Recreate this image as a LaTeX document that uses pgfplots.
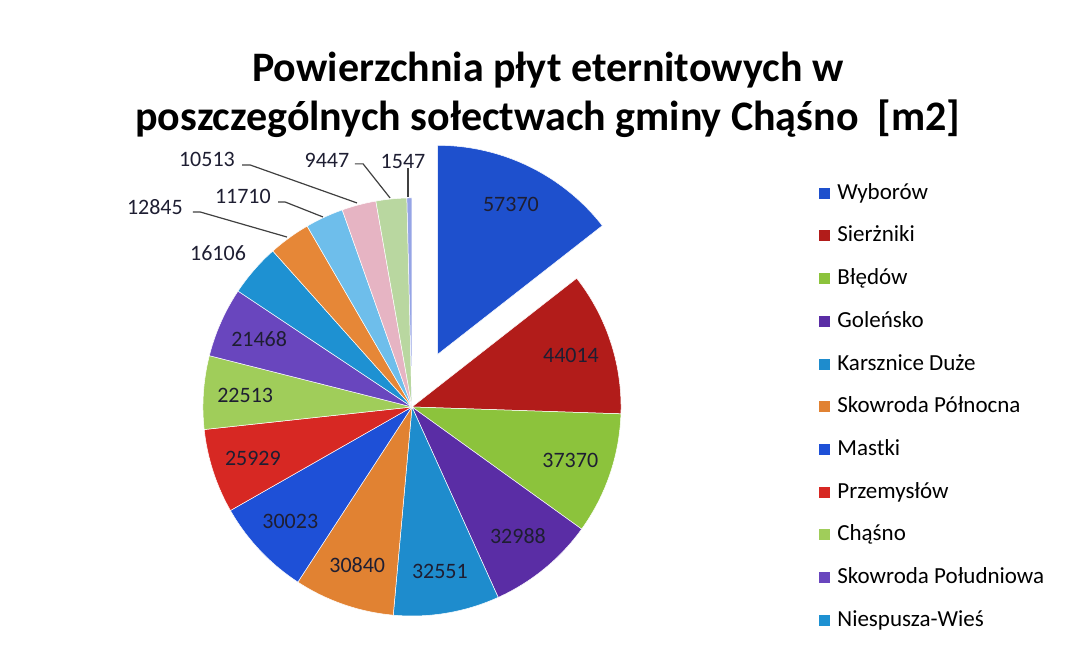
\documentclass[border=0pt]{standalone}
\usepackage{fontspec}
\setmainfont{Carlito}
\usepackage{xfp}
\usepackage{pgfplots}
\usepackage{pgfplotstable}
\pgfplotsset{compat=1.18}

\definecolor{c1}{RGB}{30,80,205}
\definecolor{c2}{RGB}{178,28,26}
\definecolor{c3}{RGB}{140,195,60}
\definecolor{c4}{RGB}{90,45,165}
\definecolor{c5}{RGB}{30,140,205}
\definecolor{c6}{RGB}{225,130,50}
\definecolor{c7}{RGB}{30,80,215}
\definecolor{c8}{RGB}{215,40,35}
\definecolor{c9}{RGB}{160,205,90}
\definecolor{c10}{RGB}{105,70,190}
\definecolor{c11}{RGB}{30,145,210}
\definecolor{c12}{RGB}{230,135,55}
\definecolor{c13}{RGB}{110,190,235}
\definecolor{c14}{RGB}{230,180,195}
\definecolor{c15}{RGB}{185,215,160}
\definecolor{c16}{RGB}{150,165,230}
\definecolor{lblcol}{RGB}{30,30,50}

\tikzset{lbl/.style={font=\fontsize{11}{13}\selectfont, text=lblcol, inner sep=0pt}}

% powierzchnia w m2, kolejnosc jak w legendzie
\pgfplotstableread[col sep=comma]{
name,value,color
Wyborów,57370,c1
Sierżniki,44014,c2
Błędów,37370,c3
Goleńsko,32988,c4
Karsznice Duże,32551,c5
Skowroda Północna,30840,c6
Mastki,30023,c7
Przemysłów,25929,c8
Chąśno,22513,c9
Skowroda Południowa,21468,c10
Niespusza-Wieś,16106,c11
s12,12845,c12
s13,11710,c13
s14,10513,c14
s15,9447,c15
s16,1547,c16
}\piedata

\def\total{0}
\pgfplotsforeachungrouped \i in {0,...,15}{%
  \pgfplotstablegetelem{\i}{value}\of\piedata
  \xdef\total{\fpeval{\total+\pgfplotsretval}}%
}

\begin{document}
\begin{tikzpicture}
\begin{axis}[
  hide axis,
  x=104.5pt, y=104.5pt,
  xmin=-1.971, xmax=3.124,
  ymin=-1.263, ymax=1.947,
  clip=false,
  legend cell align=left,
  legend image code/.code={\path[#1,draw=none] (0pt,-2.75pt) rectangle (5.5pt,2.75pt);},
  legend style={at={(0.769,0.732)}, anchor=north west, draw=none, fill=none,
    inner sep=0pt, row sep=8.35pt, column sep=2.5pt,
    font=\fontsize{11.5}{13}\selectfont,
    nodes={inner sep=1pt, text height=8.5pt, text depth=2.5pt}},
]
\path (rel axis cs:0,0) rectangle (rel axis cs:1,1);

\def\cum{0}
\pgfplotsforeachungrouped \i in {0,...,15}{%
  \pgfplotstablegetelem{\i}{value}\of\piedata \let\val\pgfplotsretval
  \pgfplotstablegetelem{\i}{name}\of\piedata \let\nm\pgfplotsretval
  \pgfplotstablegetelem{\i}{color}\of\piedata \let\col\pgfplotsretval
  \edef\aS{\fpeval{round(90-360*\cum/\total,4)}}%
  \xdef\cum{\fpeval{\cum+\val}}%
  \edef\aE{\fpeval{round(90-360*\cum/\total,4)}}%
  \edef\aM{\fpeval{(\aS+\aE)/2}}%
  \ifnum\i=0 \def\ex{0.28}\else\def\ex{0}\fi
  \edef\dx{\fpeval{round(\ex*cosd(\aM),4)}}%
  \edef\dy{\fpeval{round(\ex*sind(\aM),4)}}%
  \edef\cmd{\noexpand\addplot[fill=\col, draw=white, line width=0.25pt,
    domain=\aE:\aS, samples=60, variable=\noexpand\t\ifnum\i>10, forget plot\fi]
    ({\dx+cos(\noexpand\t)},{\dy+sin(\noexpand\t)}) -- (axis cs:\dx,\dy) -- cycle;}%
  \cmd
  \ifnum\i<11 \edef\cmd{\noexpand\addlegendentry{\nm}}\cmd\fi
  \ifnum\i<10
    \edef\cmd{\noexpand\node[lbl] at (axis cs:\fpeval{round(\dx+0.8*cosd(\aM),4)},\fpeval{round(\dy+0.8*sind(\aM),4)}) {\val};}\cmd
  \fi
}

% etykiety malych wycinkow z liniami odniesienia
\node[lbl] at (axis cs:-0.928,0.737) {16106};
\node[lbl] at (axis cs:-1.23,0.957) {12845};
\node[lbl] at (axis cs:-0.809,1.005) {11710};
\node[lbl] at (axis cs:-0.981,1.182) {10513};
\node[lbl] at (axis cs:-0.407,1.182) {9447};
\node[lbl] at (axis cs:-0.043,1.172) {1547};
\draw[black!75, line width=0.6pt] (axis cs:-1.048,0.933) -- (axis cs:-1.014,0.933) -- (axis cs:-0.598,0.813);
\draw[black!75, line width=0.6pt] (axis cs:-0.641,0.981) -- (axis cs:-0.608,0.981) -- (axis cs:-0.426,0.909);
\draw[black!75, line width=0.6pt] (axis cs:-0.813,1.158) -- (axis cs:-0.775,1.158) -- (axis cs:-0.263,0.976);
\draw[black!75, line width=0.6pt] (axis cs:-0.273,1.163) -- (axis cs:-0.234,1.163) -- (axis cs:-0.105,1.0);
\draw[black!75, line width=0.6pt] (axis cs:-0.019,1.144) -- (axis cs:-0.019,1.005);

\node[font=\bfseries\fontsize{21}{25}\selectfont, anchor=base] at (axis cs:0.65,1.555) {Powierzchnia płyt eternitowych w};
\node[font=\bfseries\fontsize{21}{25}\selectfont, anchor=base] at (axis cs:0.65,1.325) {poszczególnych sołectwach gminy Chąśno\ \ [m2]};
\end{axis}
\end{tikzpicture}
\end{document}
